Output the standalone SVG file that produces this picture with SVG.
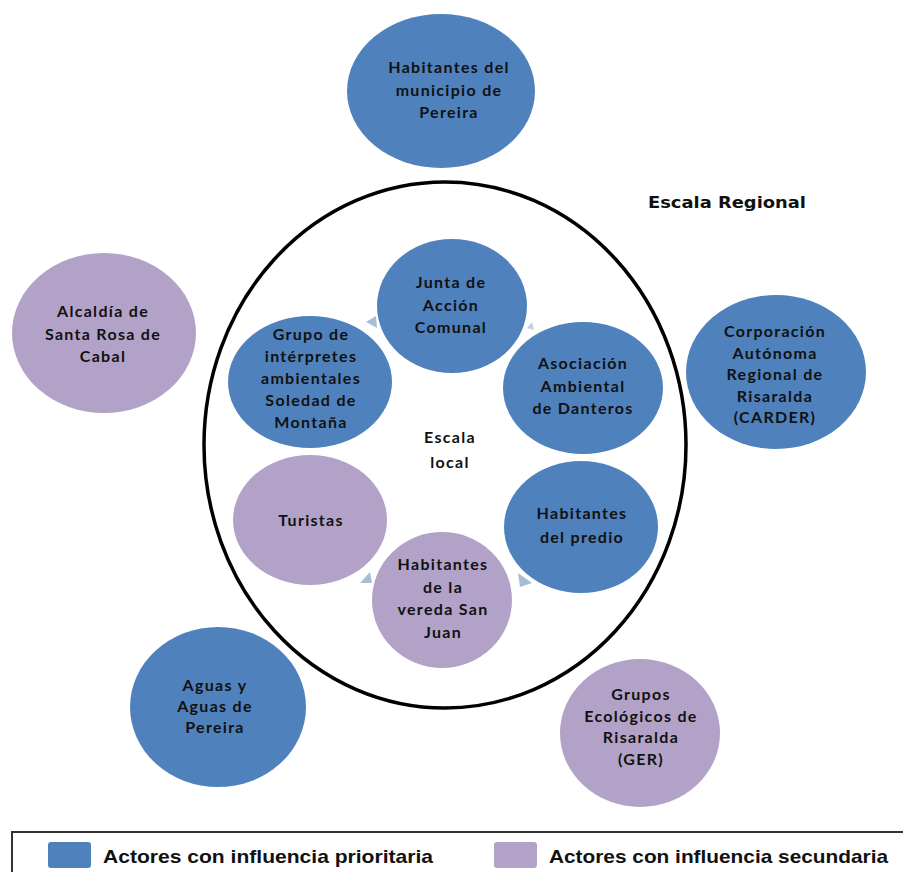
<svg xmlns="http://www.w3.org/2000/svg" width="903" height="872" viewBox="0 0 903 872">
<style>
.pri{fill:#4F81BD}
.sec{fill:#B3A2C7}
.lbl{font-family:Lato,"Liberation Sans",sans-serif;font-weight:bold;font-size:16px;letter-spacing:1.3px;fill:#111;text-anchor:middle}
.big{font-family:"DejaVu Sans","Liberation Sans",sans-serif;font-weight:bold;font-size:16px;fill:#111}
.frame{fill:none;stroke:#000;stroke-width:3.5}
.arr{fill:#A9BCD6}
.leg{font-family:"Liberation Sans Narrow","Liberation Sans",sans-serif;font-weight:bold;font-size:19px;fill:#111}
</style>
<rect width="903" height="872" fill="#fff"/>

<g id="escala-regional-frame">
<ellipse class="frame" cx="445" cy="445" rx="241" ry="263"/>
<text class="big" x="648" y="208" textLength="158" lengthAdjust="spacingAndGlyphs">Escala Regional</text>
</g>

<g id="habitantes-municipio">
<ellipse class="pri" cx="441" cy="91" rx="94" ry="77"/>
<text class="lbl" x="449" y="73">Habitantes del</text>
<text class="lbl" x="449" y="95.5">municipio de</text>
<text class="lbl" x="449" y="118">Pereira</text>
</g>

<g id="alcaldia">
<ellipse class="sec" cx="104" cy="333" rx="92" ry="80"/>
<text class="lbl" x="103" y="317">Alcaldía de</text>
<text class="lbl" x="103" y="339.5">Santa Rosa de</text>
<text class="lbl" x="103" y="362">Cabal</text>
</g>

<g id="carder">
<ellipse class="pri" cx="776" cy="372" rx="90" ry="77"/>
<text class="lbl" x="775" y="337">Corporación</text>
<text class="lbl" x="775" y="358.5">Autónoma</text>
<text class="lbl" x="775" y="380">Regional de</text>
<text class="lbl" x="775" y="401.5">Risaralda</text>
<text class="lbl" x="775" y="423">(CARDER)</text>
</g>

<g id="junta">
<ellipse class="pri" cx="452" cy="306" rx="75" ry="67"/>
<text class="lbl" x="451" y="288">Junta de</text>
<text class="lbl" x="451" y="310.5">Acción</text>
<text class="lbl" x="451" y="333">Comunal</text>
</g>

<g id="grupo-interpretes">
<ellipse class="pri" cx="310" cy="382" rx="82" ry="66"/>
<text class="lbl" x="311" y="340">Grupo de</text>
<text class="lbl" x="311" y="362">intérpretes</text>
<text class="lbl" x="311" y="384">ambientales</text>
<text class="lbl" x="311" y="406">Soledad de</text>
<text class="lbl" x="311" y="428">Montaña</text>
</g>

<g id="asociacion">
<ellipse class="pri" cx="583" cy="388" rx="80" ry="66"/>
<text class="lbl" x="583" y="369">Asociación</text>
<text class="lbl" x="583" y="391.5">Ambiental</text>
<text class="lbl" x="583" y="414">de Danteros</text>
</g>

<g id="escala-local">
<text class="lbl" x="450" y="443">Escala</text>
<text class="lbl" x="450" y="468">local</text>
</g>

<g id="turistas">
<ellipse class="sec" cx="310" cy="520" rx="77" ry="65"/>
<text class="lbl" x="311" y="526">Turistas</text>
</g>

<g id="habitantes-predio">
<ellipse class="pri" cx="581" cy="527" rx="77" ry="66"/>
<text class="lbl" x="582" y="519">Habitantes</text>
<text class="lbl" x="582" y="543">del predio</text>
</g>

<g id="habitantes-vereda">
<ellipse class="sec" cx="442" cy="600" rx="70" ry="68"/>
<text class="lbl" x="443" y="570">Habitantes</text>
<text class="lbl" x="443" y="592.5">de la</text>
<text class="lbl" x="443" y="615">vereda San</text>
<text class="lbl" x="443" y="637.5">Juan</text>
</g>

<g id="aguas">
<ellipse class="pri" cx="218" cy="707" rx="88" ry="80"/>
<text class="lbl" x="215" y="691">Aguas y</text>
<text class="lbl" x="215" y="712">Aguas de</text>
<text class="lbl" x="215" y="733">Pereira</text>
</g>

<g id="grupos-ecologicos">
<ellipse class="sec" cx="640" cy="733" rx="80" ry="74"/>
<text class="lbl" x="641" y="700">Grupos</text>
<text class="lbl" x="641" y="721.5">Ecológicos de</text>
<text class="lbl" x="641" y="743">Risaralda</text>
<text class="lbl" x="641" y="764.5">(GER)</text>
</g>

<g id="connectors">
<polygon class="arr" points="366,322 376,316 377,328"/>
<polygon class="arr" points="527,328 532,322 534,330" opacity="0.7"/>
<polygon class="arr" points="518,573 532,583 520,587"/>
<polygon class="arr" points="370,572 372,583 360,583"/>
</g>

<g id="legend">
<rect x="12" y="832" width="900" height="50" fill="none" stroke="#333" stroke-width="2"/>
<rect class="pri" x="48" y="842" width="43" height="26" rx="3"/>
<text class="leg" x="103" y="863" textLength="330" lengthAdjust="spacingAndGlyphs">Actores con influencia prioritaria</text>
<rect class="sec" x="494" y="842" width="43" height="26" rx="3"/>
<text class="leg" x="549" y="863" textLength="339" lengthAdjust="spacingAndGlyphs">Actores con influencia secundaria</text>
</g>
</svg>
